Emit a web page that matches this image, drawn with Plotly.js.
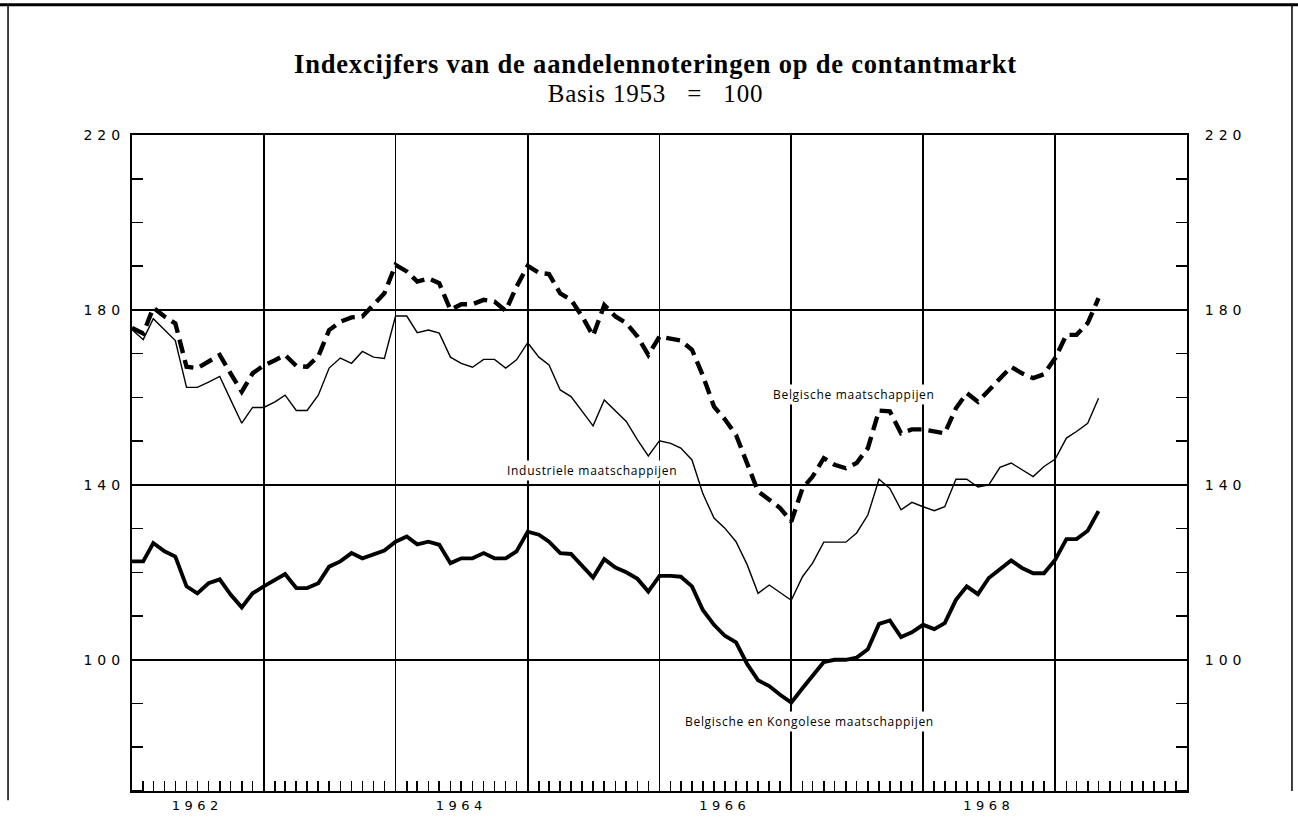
<!DOCTYPE html>
<html>
<head>
<meta charset="utf-8">
<script src="https://cdn.plot.ly/plotly-3.0.1.min.js"></script>
<style>
html,body{margin:0;padding:0;background:#fff;}
#chart{width:1298px;height:829px;}
.x2tick text { letter-spacing: 4.5px; }
.ytick text, .y2tick text { letter-spacing: 5px; }
.gtitle { letter-spacing: 0.8px; }
.annotation-text { letter-spacing: 0.7px; }
</style>
</head>
<body>
<div id="chart"></div>
<script>
// Monthly observations, January 1962 to May 1969
const startYear = 1962;
const startMonth = 1;

// Belgische maatschappijen (dashed)
const belgische = [
  175.9, 174.6, 180.5, 178.5, 176.9, 167.0, 166.7, 168.2, 169.7, 165.5, 161.3, 165.5,
  167.3, 168.5, 169.7, 167.2, 167.0, 169.4, 175.4, 177.3, 178.3, 178.5, 181.1, 183.8,
  190.3, 188.8, 186.5, 187.2, 186.1, 180.0, 181.3, 181.3, 182.3, 181.9, 179.8, 185.3,
  190.1, 188.5, 188.2, 183.8, 182.3, 178.5, 174.1, 181.1, 178.5, 177.0, 173.9, 169.7,
  173.9, 173.5, 173.0, 170.9, 165.0, 157.9, 155.0, 151.4, 145.0, 138.5, 136.6, 134.7,
  131.6, 139.2, 141.9, 146.1, 144.6, 143.8, 145.0, 148.4, 157.0, 156.8, 151.8, 152.7,
  152.7, 152.2, 151.8, 157.5, 161.0, 159.0, 161.5, 164.4, 167.0, 165.5, 164.4, 165.3,
  169.0, 174.3, 174.3, 177.0, 182.7
];

// Industriele maatschappijen (thin)
const industriele = [
  175.5, 173.2, 178.0, 175.5, 173.0, 162.3, 162.3, 163.5, 164.8, 159.5, 154.1, 157.7,
  157.7, 159.0, 160.5, 157.0, 157.0, 160.5, 166.7, 169.0, 167.8, 170.5, 169.2, 168.9,
  178.6, 178.6, 174.8, 175.4, 174.7, 169.2, 167.8, 166.9, 168.7, 168.7, 166.7, 168.6,
  172.5, 169.2, 167.4, 161.7, 160.2, 156.8, 153.5, 159.4, 156.8, 154.5, 150.3, 146.6,
  150.1, 149.5, 148.4, 145.7, 138.0, 132.4, 130.1, 127.0, 121.7, 115.2, 117.1, 115.3,
  113.6, 119.0, 122.1, 126.9, 126.9, 126.9, 129.0, 133.1, 141.3, 139.2, 134.3, 136.0,
  135.0, 134.1, 135.0, 141.3, 141.3, 139.5, 140.0, 144.0, 145.0, 143.4, 141.9, 144.2,
  145.9, 150.7, 152.2, 154.1, 159.8
];

// Belgische en Kongolese maatschappijen (thick)
const kongolese = [
  122.5, 122.5, 126.7, 124.8, 123.6, 116.8, 115.2, 117.5, 118.4, 114.9, 112.0, 115.2,
  116.8, 118.4, 119.6, 116.4, 116.4, 117.5, 121.3, 122.5, 124.4, 123.2, 124.1, 125.0,
  127.0, 128.2, 126.4, 127.0, 126.3, 122.1, 123.2, 123.2, 124.4, 123.2, 123.2, 124.8,
  129.3, 128.6, 127.0, 124.4, 124.2, 121.3, 118.8, 123.0, 121.1, 120.0, 118.5, 115.6,
  119.2, 119.2, 119.0, 116.8, 111.4, 108.0, 105.5, 104.0, 99.0, 95.3, 94.0, 92.0,
  90.2, 93.5, 96.4, 99.5, 100.0, 100.0, 100.5, 102.4, 108.2, 109.0, 105.2, 106.3,
  108.0, 107.0, 108.4, 113.7, 116.8, 115.0, 118.7, 120.7, 122.7, 121.0, 119.8, 119.8,
  122.9, 127.6, 127.6, 129.5, 134.0
];

const yearLabels = ['1962', '1964', '1966', '1968'];
const xRange = ['1962-01-01', '1970-01-01'];
const yRange = [70, 220];

const seriesNames = [
  'Belgische maatschappijen',
  'Industriele maatschappijen',
  'Belgische en Kongolese maatschappijen'
];

function monthDate(i) {
  const total = (startMonth - 1) + i;
  const y = startYear + Math.floor(total / 12);
  const m = (total % 12) + 1;
  return y + '-' + String(m).padStart(2, '0') + '-01';
}
const months = belgische.map((_, i) => monthDate(i));

const traces = [
  {
    x: months, y: belgische, name: seriesNames[0], type: 'scatter', mode: 'lines',
    line: {color: '#000', width: 4.4, dash: '14px,7px'}, hoverinfo: 'x+y'
  },
  {
    x: months, y: industriele, name: seriesNames[1], type: 'scatter', mode: 'lines',
    xaxis: 'x2', yaxis: 'y2',
    line: {color: '#000', width: 1.4}, hoverinfo: 'x+y'
  },
  {
    x: months, y: kongolese, name: seriesNames[2], type: 'scatter', mode: 'lines',
    line: {color: '#000', width: 3.9}, hoverinfo: 'x+y'
  }
];

const xTickFont = {family: 'DejaVu Sans', size: 13, color: '#000'};
const yTickFont = {family: 'DejaVu Sans', size: 14, color: '#000'};
const labelFont = {family: 'Open Sans', size: 12, color: '#000'};

const yCommon = {
  range: yRange,
  tickmode: 'linear', tick0: 20, dtick: 40,
  ticks: '',
  showgrid: true, gridcolor: '#000', gridwidth: 1.6,
  zeroline: false,
  showline: true, linecolor: '#000', linewidth: 2,
  tickfont: yTickFont,
  minor: {tickmode: 'linear', tick0: 70, dtick: 10, ticks: 'inside', ticklen: 11, tickwidth: 1.6, tickcolor: '#000', showgrid: false},
  fixedrange: true
};

const layout = {
  width: 1298, height: 829,
  paper_bgcolor: '#fff', plot_bgcolor: '#fff',
  margin: {l: 132, r: 111, t: 135, b: 38},
  showlegend: false,
  title: {
    text: '<span style="font-size:26.5px"><b>Indexcijfers van de aandelennoteringen op de contantmarkt</b></span><br><span style="font-size:25px">Basis 1953\u00a0\u00a0\u00a0=\u00a0\u00a0\u00a0100</span>',
    font: {family: 'Liberation Serif', size: 22, color: '#000'},
    x: 0.505, xanchor: 'center',
    y: 0.912, yanchor: 'middle', yref: 'container'
  },
  xaxis: {
    type: 'date', range: xRange,
    tickmode: 'linear', tick0: '1962-01-01', dtick: 'M12',
    ticks: '', showticklabels: false,
    showgrid: true, gridcolor: '#000', gridwidth: 1.6,
    zeroline: false,
    showline: true, linecolor: '#000', linewidth: 2, mirror: true,
    minor: {tickmode: 'linear', tick0: '1962-01-01', dtick: 'M1', ticks: 'inside', ticklen: 10, tickwidth: 1.6, tickcolor: '#000', showgrid: false},
    fixedrange: true
  },
  xaxis2: {
    type: 'date', range: xRange, overlaying: 'x', anchor: 'y2', side: 'bottom',
    tickmode: 'array',
    tickvals: yearLabels.map(y => y + '-07-01'),
    ticktext: yearLabels,
    ticks: '', showgrid: false, showline: false, zeroline: false,
    tickfont: xTickFont, ticklabelstandoff: 5,
    fixedrange: true
  },
  yaxis: Object.assign({}, yCommon, {side: 'left', mirror: true, ticklabelstandoff: 2}),
  yaxis2: Object.assign({}, yCommon, {side: 'right', overlaying: 'y', anchor: 'x', showgrid: false, ticklabelstandoff: 13}),
  annotations: [
    {text: seriesNames[0], x: '1967-06-25', y: 160.6, xref: 'x', yref: 'y', showarrow: false, font: labelFont, bgcolor: '#fff', borderpad: 1},
    {text: seriesNames[1], x: '1965-06-27', y: 143.2, xref: 'x', yref: 'y', showarrow: false, font: labelFont, bgcolor: '#fff', borderpad: 1},
    {text: seriesNames[2], x: '1967-02-20', y: 85.8, xref: 'x', yref: 'y', showarrow: false, font: labelFont, bgcolor: '#fff', borderpad: 1}
  ],
  shapes: [
    {type: 'line', xref: 'paper', yref: 'paper', x0: -0.126, x1: 1.106, y0: 1.1985, y1: 1.1985, line: {color: '#000', width: 3}},
    {type: 'line', xref: 'paper', yref: 'paper', x0: -0.1175, x1: -0.1175, y0: 1.1985, y1: -0.014, line: {color: '#000', width: 1.5}},
    {type: 'line', xref: 'paper', yref: 'paper', x0: 1.0995, x1: 1.0995, y0: 1.1985, y1: 0.0, line: {color: '#000', width: 1.5}}
  ]
};

Plotly.newPlot('chart', traces, layout, {displayModeBar: false, staticPlot: true});
</script>
</body>
</html>
